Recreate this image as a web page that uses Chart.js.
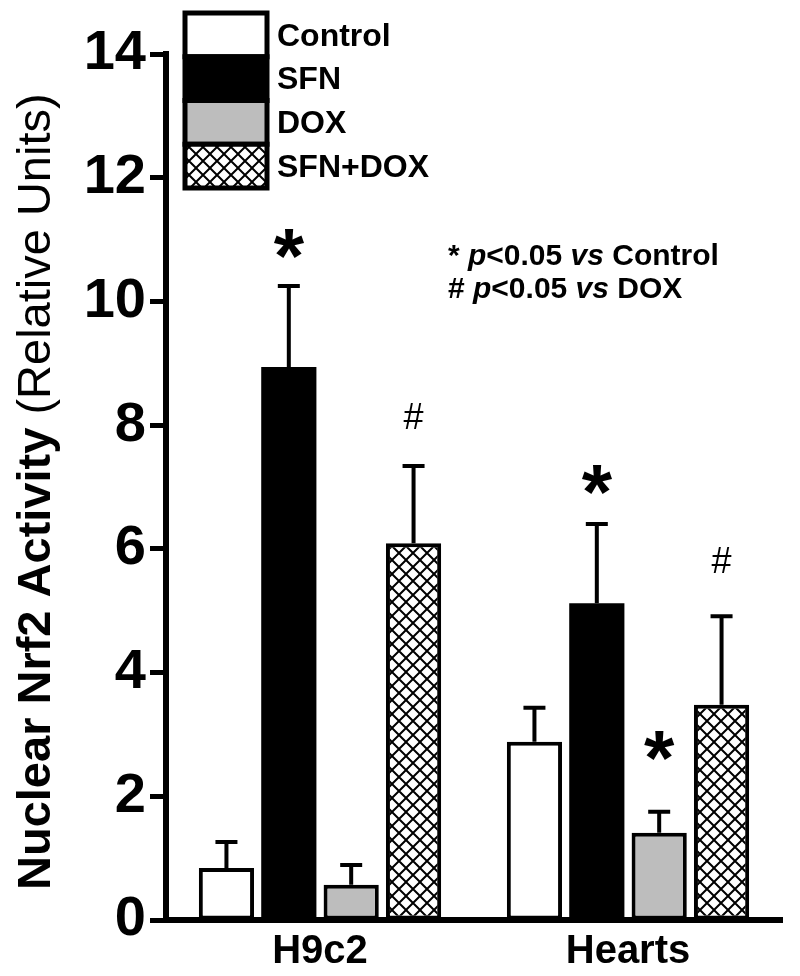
<!DOCTYPE html>
<html>
<head>
<meta charset="utf-8">
<script src="https://cdn.jsdelivr.net/npm/chart.js@4/dist/chart.umd.min.js"></script>
<style>
  html, body { margin: 0; padding: 0; background: #fff; }
  #wrap { width: 800px; height: 976px; }
</style>
</head>
<body>
<div id="wrap"><canvas id="grafico" width="800" height="976"></canvas></div>
<script>
// data
const categories = ['H9c2', 'Hearts'];
const seriesNames = ['Control', 'SFN', 'DOX', 'SFN+DOX'];
const control = [0.84, 2.88];
const sfn = [8.94, 5.12];
const dox = [0.57, 1.41];
const sfnDox = [6.09, 3.48];
const controlErr = [0.42, 0.55];
const sfnErr = [1.31, 1.28];
const doxErr = [0.32, 0.34];
const sfnDoxErr = [1.25, 1.43];
const controlMarks = ['', ''];
const sfnMarks = ['*', '*'];
const doxMarks = ['', '*'];
const sfnDoxMarks = ['#', '#'];
const yTickValues = [0, 2, 4, 6, 8, 10, 12, 14];

const yTitleBold = 'Nuclear Nrf2 Activity ';
const yTitleNormal = '(Relative Units)';
const noteLines = [
  [['* ', ''], ['p', 'italic '], ['<0.05 ', ''], ['vs', 'italic '], [' Control', '']],
  [['# ', ''], ['p', 'italic '], ['<0.05 ', ''], ['vs', 'italic '], [' DOX', '']]
];

const FONT = '"Liberation Sans", Arial, sans-serif';

function hatch() {
  const c = document.createElement('canvas');
  c.width = 14; c.height = 14;
  const g = c.getContext('2d');
  g.fillStyle = '#fff';
  g.fillRect(0, 0, 14, 14);
  g.strokeStyle = '#000';
  g.lineWidth = 2;
  g.beginPath();
  g.moveTo(-2, -2); g.lineTo(16, 16);
  g.moveTo(16, -2); g.lineTo(-2, 16);
  g.stroke();
  return g.createPattern(c, 'repeat');
}

const ctx = document.getElementById('grafico').getContext('2d');
const fills = ['#ffffff', '#000000', '#bdbdbd', hatch()];
const borders = [4, 0, 4, 4];
const values = [control, sfn, dox, sfnDox];
const errs = [controlErr, sfnErr, doxErr, sfnDoxErr];
const marks = [controlMarks, sfnMarks, doxMarks, sfnDoxMarks];
// extra lift of a mark above its error cap, in px
const markGap = [[0, 0], [48, 50], [0, 72], [50, 56]];

const extras = {
  id: 'extras',
  afterDatasetsDraw(chart) {
    const c = chart.ctx;
    const y = chart.scales.y;
    c.save();
    c.strokeStyle = '#000';
    c.fillStyle = '#000';
    c.lineWidth = 4;
    chart.data.datasets.forEach((ds, i) => {
      const meta = chart.getDatasetMeta(i);
      meta.data.forEach((bar, j) => {
        const top = y.getPixelForValue(ds.data[j] + errs[i][j]);
        c.beginPath();
        c.moveTo(bar.x, bar.y);
        c.lineTo(bar.x, top);
        c.moveTo(bar.x - 11, top);
        c.lineTo(bar.x + 11, top);
        c.stroke();
        const m = marks[i][j];
        c.textAlign = 'center';
        c.textBaseline = 'alphabetic';
        if (m === '*') {
          c.font = 'bold 78px ' + FONT;
          c.fillText(m, bar.x, top - markGap[i][j] + 0.58 * 78);
        } else if (m === '#') {
          c.font = '36px ' + FONT;
          c.fillText(m, bar.x, top - markGap[i][j] + 0.36 * 36);
        }
      });
    });
    c.restore();
  },
  afterDraw(chart) {
    const c = chart.ctx;
    c.save();
    // legend
    const lx = 185, ly = 13, lw = 82, lh = 43.75;
    chart.data.datasets.forEach((ds, i) => {
      c.fillStyle = ds.backgroundColor;
      c.fillRect(lx, ly + i * lh, lw, lh);
      c.lineWidth = 5;
      c.strokeStyle = '#000';
      c.strokeRect(lx, ly + i * lh, lw, lh);
      c.fillStyle = '#000';
      c.font = 'bold 32px ' + FONT;
      c.textAlign = 'left';
      c.textBaseline = 'middle';
      c.fillText(ds.label, lx + lw + 10, ly + i * lh + lh / 2 + 2);
    });
    // y title
    c.translate(50, 890);
    c.rotate(-Math.PI / 2);
    c.textAlign = 'left';
    c.textBaseline = 'alphabetic';
    c.font = 'bold 47px ' + FONT;
    c.fillText(yTitleBold, 0, 0);
    const w = c.measureText(yTitleBold).width;
    c.font = '47px ' + FONT;
    c.fillText(yTitleNormal, w, 0);
    c.setTransform(1, 0, 0, 1, 0, 0);
    // significance note
    noteLines.forEach((line, k) => {
      let x = 448;
      line.forEach(([t, st]) => {
        c.font = st + 'bold 30px ' + FONT;
        c.fillText(t, x, 265 + k * 33);
        x += c.measureText(t).width;
      });
    });
    c.restore();
  }
};

new Chart(ctx, {
  type: 'bar',
  data: {
    labels: categories,
    datasets: seriesNames.map((name, i) => ({
      label: name,
      data: values[i],
      backgroundColor: fills[i],
      borderColor: '#000',
      borderWidth: borders[i],
      borderSkipped: false,
      categoryPercentage: 0.81,
      barPercentage: 0.885
    }))
  },
  options: {
    responsive: false,
    animation: false,
    layout: { padding: { top: 54, right: 18, left: 0, bottom: 0 } },
    plugins: {
      legend: { display: false },
      tooltip: { enabled: false }
    },
    scales: {
      x: {
        afterFit(s) { s.height = 56; },
        grid: { display: true, drawOnChartArea: false, drawTicks: false },
        border: { display: true, color: '#000', width: 6 },
        ticks: { color: '#000', padding: 8, font: { family: FONT, size: 40, weight: 'bold' } }
      },
      y: {
        min: 0,
        max: 14,
        afterFit(s) { s.width = 166; },
        afterBuildTicks(s) {
          s.ticks = [];
          for (let v = 0; v <= 14; v++) s.ticks.push({ value: v });
        },
        grid: { drawOnChartArea: false, drawTicks: true, tickLength: 16, tickWidth: 5, tickColor: '#000' },
        border: { display: true, color: '#000', width: 6 },
        ticks: {
          color: '#000',
          padding: 4,
          font: { family: FONT, size: 56, weight: 'bold' },
          callback: v => yTickValues.includes(v) ? String(v) : ''
        }
      }
    }
  },
  plugins: [extras]
});
</script>
</body>
</html>
